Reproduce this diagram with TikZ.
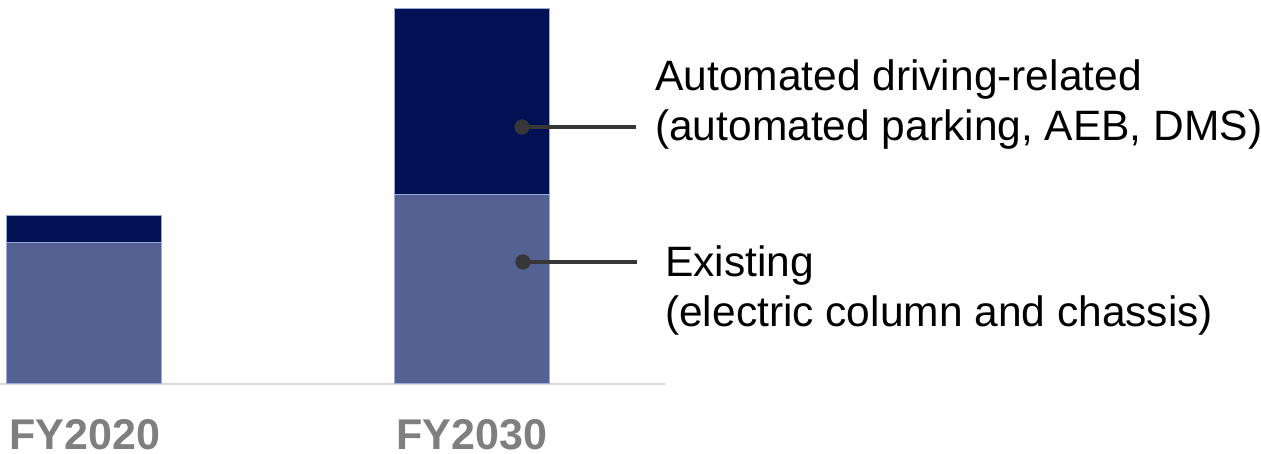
\documentclass[tikz,border=0pt]{standalone}
\usepackage{fontspec}
\setmainfont{Liberation Sans}
\definecolor{navy}{RGB}{0,18,84}
\definecolor{steel}{RGB}{83,98,147}
\definecolor{edge}{RGB}{155,170,215}
\definecolor{dotc}{RGB}{55,55,55}
\definecolor{axisc}{RGB}{217,217,217}
\definecolor{yearc}{RGB}{127,127,127}
\tikzset{
  topbar/.style={fill=navy, draw=edge, line width=0.8pt},
  basebar/.style={fill=steel, draw=edge, line width=1pt},
  dotmark/.style={circle, fill=dotc, inner sep=0pt, minimum size=15pt},
  leader/.style={draw=dotc, line width=4pt},
  lbl/.style={anchor=west, align=left, inner sep=0pt, font=\fontsize{42.5}{50}\selectfont, text=black},
  year/.style={anchor=base, inner sep=0pt, font=\fontsize{43}{50}\selectfont\bfseries, text=yearc}
}
\begin{document}
\begin{tikzpicture}[x=1pt,y=-1pt]
\useasboundingbox (0,0) rectangle (1261,454);
% axis
\draw[axisc, line width=2pt] (0,384) -- (665,384);
% bars
\path[basebar] (6,242) rectangle (161,383);
\path[topbar] (6,215) rectangle (161,242);
\path[basebar] (394,194) rectangle (549,383);
\path[topbar] (394,8) rectangle (549,194);
% dots and leaders
\node[dotmark] (d1) at (522,127) {};
\node[dotmark] (d2) at (523,262) {};
\coordinate (e1) at (636,127);
\coordinate (e2) at (637,262);
\draw[leader] (d1.center) -- (e1);
\draw[leader] (d2.center) -- (e2);
\node[dotmark] at (d1) {};
\node[dotmark] at (d2) {};
% labels
\node[lbl] (l1) at (655,105) {Automated driving-related\\(automated parking, AEB, DMS)};
\node[lbl] (l2) at (665,291) {Existing\\(electric column and chassis)};
% years
\node[year] (y1) at (85,449) {FY2020};
\node[year] (y2) at (472,449) {FY2030};
\end{tikzpicture}
\end{document}
